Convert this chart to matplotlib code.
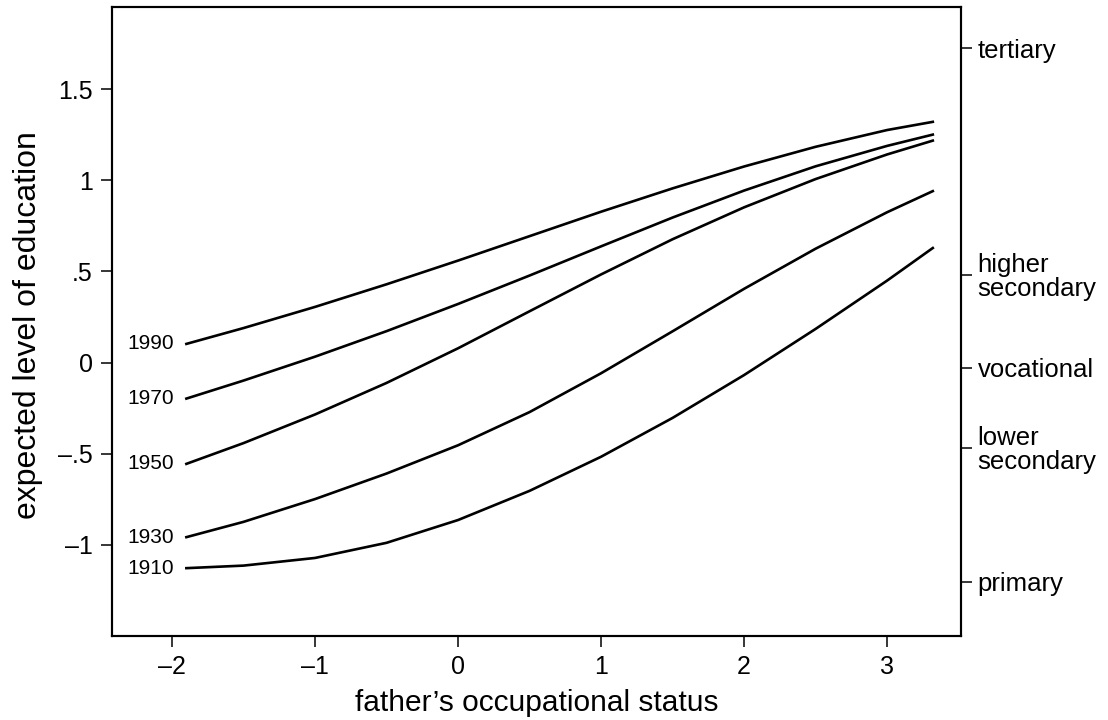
import numpy as np
import matplotlib as mpl
mpl.use("Agg")
import matplotlib.pyplot as plt

plt.rcParams['font.family'] = ['Liberation Sans', 'DejaVu Sans']

# father's occupational status values where the curves were read
status = [-1.9, -1.5, -1.0, -0.5, 0.0, 0.5, 1.0, 1.5, 2.0, 2.5, 3.0, 3.32]

# expected level of education per birth cohort
edu_1990 = [0.102, 0.189, 0.305, 0.429, 0.559, 0.693, 0.827, 0.955, 1.075, 1.183, 1.275, 1.320]
edu_1970 = [-0.198, -0.099, 0.032, 0.172, 0.321, 0.477, 0.637, 0.795, 0.943, 1.076, 1.188, 1.250]
edu_1950 = [-0.556, -0.442, -0.285, -0.112, 0.078, 0.281, 0.483, 0.676, 0.851, 1.006, 1.141, 1.217]
edu_1930 = [-0.958, -0.874, -0.749, -0.609, -0.454, -0.272, -0.059, 0.171, 0.404, 0.624, 0.824, 0.940]
edu_1910 = [-1.128, -1.114, -1.072, -0.989, -0.864, -0.704, -0.517, -0.304, -0.069, 0.184, 0.449, 0.628]

cohorts = ["1990", "1970", "1950", "1930", "1910"]
series = [edu_1990, edu_1970, edu_1950, edu_1930, edu_1910]

yticks = [1.5, 1, 0.5, 0, -0.5, -1]
ytick_labels = ["1.5", "1", ".5", "0", "\u2013.5", "\u20131"]
xticks = [-2, -1, 0, 1, 2, 3]
xtick_labels = ["\u20132", "\u20131", "0", "1", "2", "3"]

levels = ["tertiary", "higher\nsecondary", "vocational", "lower\nsecondary", "primary"]
level_pos = [1.725, 0.48, -0.03, -0.468, -1.203]

fig = plt.figure(figsize=(11.08, 7.2), dpi=100)
ax = fig.add_axes([0.1011, 0.1167, 0.7662, 0.8736])

for name, vals in zip(cohorts, series):
  ax.plot(status, vals, color='black', lw=1.9, solid_joinstyle='round')
  ax.text(status[0] - 0.09, vals[0], name, ha='right', va='center', fontsize=15)

ax.set_xlim(-2.42, 3.517)
ax.set_ylim(-1.5, 1.95)
ax.set_xticks(xticks)
ax.set_xticklabels(xtick_labels)
ax.set_yticks(yticks)
ax.set_yticklabels(ytick_labels)
ax.tick_params(axis='both', direction='out', length=8, width=1.1, labelsize=18, pad=6)
ax.set_xlabel("father\u2019s occupational status", fontsize=21.5)
ax.set_ylabel("expected level of education", fontsize=23)
ax.xaxis.set_label_coords(0.5, -0.084)
ax.yaxis.set_label_coords(-0.081, 0.495)

ax2 = ax.twinx()
ax2.set_ylim(ax.get_ylim())
ax2.set_yticks(level_pos)
ax2.set_yticklabels(levels, ha='left', linespacing=1.0)
ax2.tick_params(axis='y', direction='out', length=8, width=1.1, labelsize=18.5, pad=4)

for a in (ax, ax2):
  for sp in a.spines.values():
    sp.set_linewidth(1.5)

fig.savefig("out.png", dpi=100)
